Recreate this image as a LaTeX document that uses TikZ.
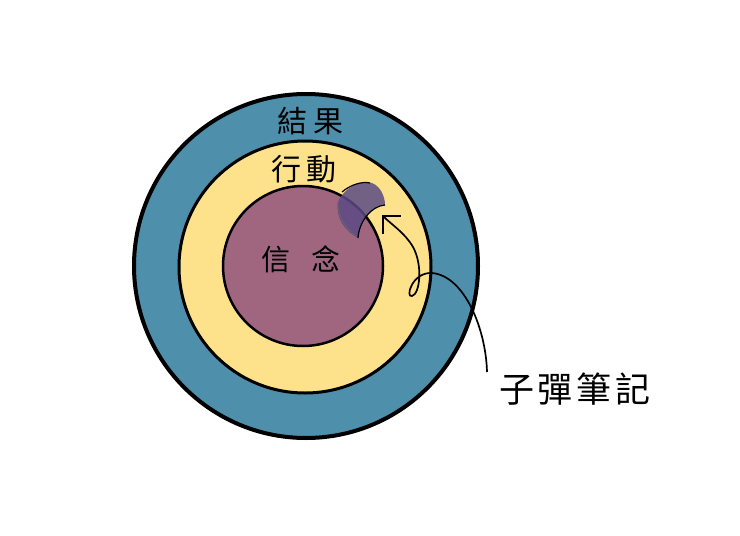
\documentclass[tikz,border=0pt]{standalone}
\usepackage{fontspec}
\newfontfamily\cjk{Noto Sans CJK TC}
\usetikzlibrary{arrows.meta}
\definecolor{ringblue}{HTML}{4E8FAB}
\definecolor{ringyellow}{HTML}{FDE28B}
\definecolor{ringpurple}{HTML}{A06680}
\definecolor{patchpurple}{HTML}{5C4A85}
\tikzset{
  ring/.style={circle, draw=black, inner sep=0pt},
  lbl/.style={font=\cjk\fontsize{30}{30}\selectfont, inner sep=0pt},
  pointer/.style={draw=black, line width=1.7pt, -{Straight Barb[length=13pt,width=26pt,line width=1.7pt]}}
}
\begin{document}
\begin{tikzpicture}[x=1pt,y=-1pt]
\useasboundingbox[fill=white] (0,0) rectangle (740,536);
\node[ring, line width=4pt, fill=ringblue, minimum size=344pt] (outer) at (306,266) {};
\node[ring, line width=3pt, fill=ringyellow, minimum size=252pt] (middle) at (305,267) {};
\node[ring, line width=2.5pt, fill=ringpurple, minimum size=160pt] (inner) at (303,266) {};
% bullet patch
\fill[patchpurple, opacity=0.85] (338,202) .. controls (345,186) and (362,180) .. (372,183)
  .. controls (380,186) and (385,196) .. (385,205)
  .. controls (371,206) and (359,222) .. (358,238)
  .. controls (346,232) and (335,218) .. (338,202) -- cycle;
\draw[line width=1.2pt] (342,192) .. controls (350,185) and (362,181) .. (370,183);
\draw[line width=1.2pt] (385,205) .. controls (371,206) and (359,222) .. (358,238);
\draw[line width=0.8pt, black!60] (338,202) .. controls (337,215) and (345,228) .. (356,236);
\coordinate (patch) at (382,215);
% labels
\node[lbl] (result) at (310,121) {結\hspace{6pt}果};
\node[lbl] (action) at (304,169) {行\hspace{5pt}動};
\node[lbl, font=\cjk\fontsize{29}{29}\selectfont] (belief) at (301,259) {信\hspace{22pt}念};
\node[font=\cjk\fontsize{35}{35}\selectfont, inner sep=0pt] (note) at (575,389) {子\hspace{4pt}彈\hspace{4pt}筆\hspace{4pt}記};
\coordinate (start) at (487,372);
\draw[pointer] (start) .. controls (486,330) and (465,276) .. (432,273)
  .. controls (412,272) and (405,298) .. (412,296)
  .. controls (420,294) and (423,265) .. (413,247)
  .. controls (405,233) and (392,225) .. (patch);
\end{tikzpicture}
\end{document}
